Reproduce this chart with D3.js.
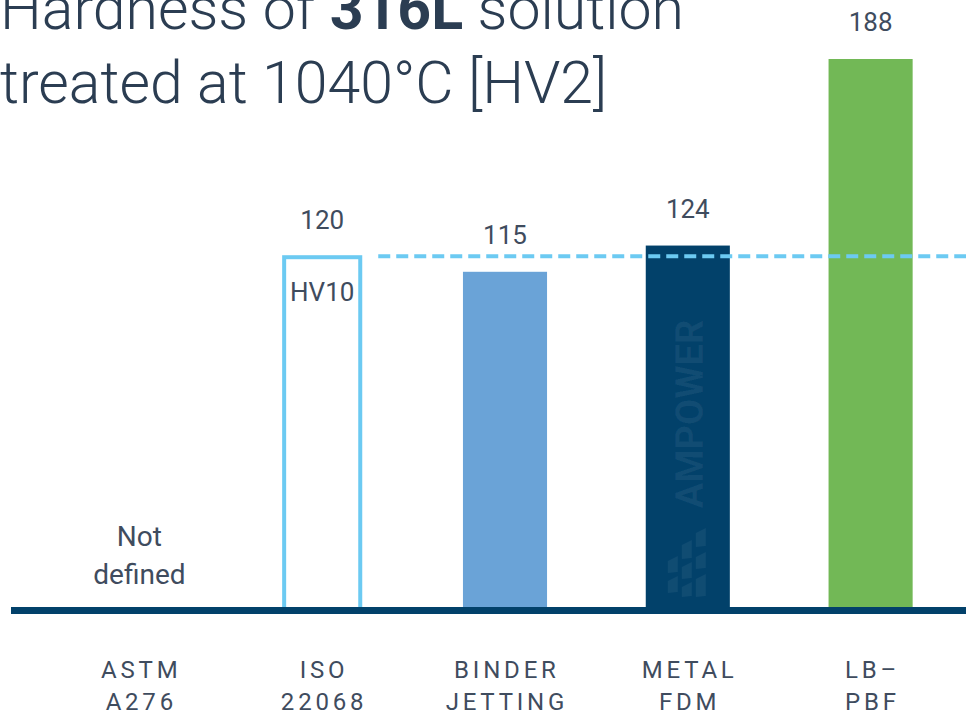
<!DOCTYPE html>
<html>
<head>
<meta charset="utf-8">
<script src="https://cdn.jsdelivr.net/npm/d3@7"></script>
<style>
  html, body { margin: 0; padding: 0; background: #ffffff; }
  svg { display: block; font-family: Roboto, "Noto Sans", sans-serif; }
</style>
</head>
<body>
<svg id="chart" width="966" height="714"></svg>
<script>
// Hardness of 316L after solution treatment, by standard / process
const categories = ["ASTM A276", "ISO 22068", "BINDER JETTING", "METAL FDM", "LB-PBF"];
const categoryLines = [["ASTM", "A276"], ["ISO", "22068"], ["BINDER", "JETTING"], ["METAL", "FDM"], ["LB\u2013", "PBF"]];
const hardness = [null, 120, 115, 124, 188];          // HV; null = not defined
const barKind = ["none", "outline", "solid", "solid", "solid"];
const barColors = ["#ffffff", "#6ccaf2", "#6aa3d7", "#02416a", "#72b856"];
const referenceCategory = "ISO 22068";
const referenceValue = 120;
const valueMax = 188;

const W = 966, H = 714;
const baseY = 607;
const textColor = "#3f4c5e";
const titleColor = "#2b3d52";

const svg = d3.select("#chart");

const x = d3.scaleBand()
  .domain(categories)
  .range([48, 962])
  .paddingInner(0.54)
  .paddingOuter(0.27);

const y = d3.scaleLinear()
  .domain([0, valueMax])
  .range([baseY, 59]);

// Title
const title = svg.append("g")
  .attr("fill", titleColor)
  .attr("font-size", 59)
  .attr("font-weight", 300);
const t1 = title.append("text").attr("x", 0).attr("y", 29);
t1.append("tspan").text("Hardness of ");
t1.append("tspan").attr("font-weight", 700).text("316L");
t1.append("tspan").text(" solution");
title.append("text").attr("x", 0).attr("y", 103).text("treated at 1040\u00b0C [HV2]");

const rows = categories.map((c, i) => ({
  cat: c, lines: categoryLines[i], v: hardness[i], kind: barKind[i], color: barColors[i]
}));

// Solid bars
svg.append("g").selectAll("rect")
  .data(rows.filter(d => d.kind === "solid"))
  .join("rect")
  .attr("x", d => x(d.cat))
  .attr("width", x.bandwidth())
  .attr("y", d => y(d.v))
  .attr("height", d => baseY - y(d.v))
  .attr("fill", d => d.color);

// Outlined reference bar
const sw = 4;
svg.append("g").selectAll("rect")
  .data(rows.filter(d => d.kind === "outline"))
  .join("rect")
  .attr("x", d => x(d.cat) + sw)
  .attr("width", x.bandwidth() - 2 * sw)
  .attr("y", d => y(d.v))
  .attr("height", d => baseY - y(d.v) + sw)
  .attr("fill", "none")
  .attr("stroke", d => d.color)
  .attr("stroke-width", sw);

// AMPOWER watermark on the METAL FDM bar
const wmX = x("METAL FDM") + x.bandwidth() / 2;
const wm = svg.append("g").attr("fill", "#ffffff").attr("fill-opacity", 0.06);
wm.append("text")
  .attr("transform", `translate(${wmX + 15},${414}) rotate(-90)`)
  .attr("text-anchor", "middle")
  .attr("font-size", 38)
  .attr("font-weight", 700)
  .text("AMPOWER");
// stylised tile logo
const tiles = [
  [-20, 556, 10, 16], [-20, 576, 10, 16],
  [-6, 540, 10, 18], [-6, 562, 10, 16], [-6, 582, 10, 14],
  [8, 528, 10, 18], [8, 552, 10, 16], [8, 574, 10, 22]
];
wm.selectAll("path.tile")
  .data(tiles)
  .join("path")
  .attr("class", "tile")
  .attr("d", ([dx, ty, w, h]) => {
    const x0 = wmX + dx, sk = 5;
    return `M${x0},${ty + sk}L${x0 + w},${ty}L${x0 + w},${ty + h}L${x0},${ty + h + sk * 0.2}Z`;
  });

// Reference (dashed) line at the ISO value
svg.append("line")
  .attr("x1", x(referenceCategory) + x.bandwidth() + 14)
  .attr("x2", W)
  .attr("y1", y(referenceValue) - 1)
  .attr("y2", y(referenceValue) - 1)
  .attr("stroke", "#6ccaf2")
  .attr("stroke-width", 4)
  .attr("stroke-dasharray", "12,6");

// Baseline
svg.append("line")
  .attr("x1", 11).attr("x2", W)
  .attr("y1", baseY + 3.5).attr("y2", baseY + 3.5)
  .attr("stroke", "#02416a")
  .attr("stroke-width", 7);

// Value labels
svg.append("g").selectAll("text")
  .data(rows.filter(d => d.v != null))
  .join("text")
  .attr("x", d => x(d.cat) + x.bandwidth() / 2)
  .attr("y", d => y(d.v) - 28)
  .attr("text-anchor", "middle")
  .attr("font-size", 26)
  .attr("fill", textColor)
  .text(d => d.v);

// Annotation inside the outlined bar
svg.append("text")
  .attr("x", x(referenceCategory) + x.bandwidth() / 2)
  .attr("y", 301)
  .attr("text-anchor", "middle")
  .attr("font-size", 26)
  .attr("fill", textColor)
  .text("HV10");

// "Not defined" for missing values
rows.filter(d => d.v == null).forEach(d => {
  const cx = x(d.cat) + x.bandwidth() / 2;
  const t = svg.append("text")
    .attr("text-anchor", "middle")
    .attr("font-size", 28)
    .attr("fill", textColor);
  t.append("tspan").attr("x", cx).attr("y", 546).text("Not");
  t.append("tspan").attr("x", cx).attr("y", 584).text("defined");
});

// Category labels
const ls = 3.8;
const catG = svg.append("g").selectAll("text")
  .data(rows)
  .join("text")
  .attr("text-anchor", "middle")
  .attr("font-size", 24)
  .attr("letter-spacing", ls)
  .attr("fill", textColor);
catG.each(function(d) {
  const cx = x(d.cat) + x.bandwidth() / 2 + ls / 2;
  d3.select(this).selectAll("tspan")
    .data(d.lines)
    .join("tspan")
    .attr("x", cx)
    .attr("y", (l, i) => 678 + i * 32)
    .text(l => l);
});
</script>
</body>
</html>
